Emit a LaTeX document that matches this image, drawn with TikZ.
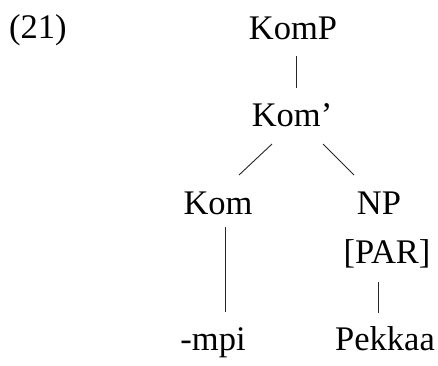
\documentclass[tikz,border=0pt]{standalone}
\usepackage{fontspec}
\setmainfont{Liberation Serif}
\usetikzlibrary{calc}
\begin{document}
\begin{tikzpicture}[x=1pt,y=-1pt,
  lab/.style={inner sep=0pt,anchor=base,font=\fontsize{34.5}{40}\selectfont},
  edge/.style={line width=0.9pt,draw=black!85}]
\useasboundingbox (0,0) rectangle (438,365);
\node[lab,anchor=base west] (ex) at (9,38) {(21)};
\node[lab] (komp) at (293,39) {KomP};
\node[lab] (kombar) at (292,126) {Kom’};
\node[lab] (kom) at (218,214) {Kom};
\node[lab] (np) at (379,214) {NP};
\node[lab] (par) at (387,263) {[PAR]};
\node[lab] (mpi) at (213,350) {-mpi};
\node[lab] (pek) at (385,350) {Pekkaa};
\draw[edge] ($(komp.base)+(3,17)$) -- ($(kombar.base)+(4,-38)$);
\draw[edge] ($(kombar.base)+(-20,18)$) -- ($(kom.base)+(21,-39)$);
\draw[edge] ($(kombar.base)+(31,18)$) -- ($(np.base)+(-25,-39)$);
\draw[edge] ($(kom.base)+(7,13)$) -- ($(mpi.base)+(12,-38)$);
\draw[edge] ($(par.base)+(-9,19)$) -- ($(pek.base)+(-7,-37)$);
\end{tikzpicture}
\end{document}
